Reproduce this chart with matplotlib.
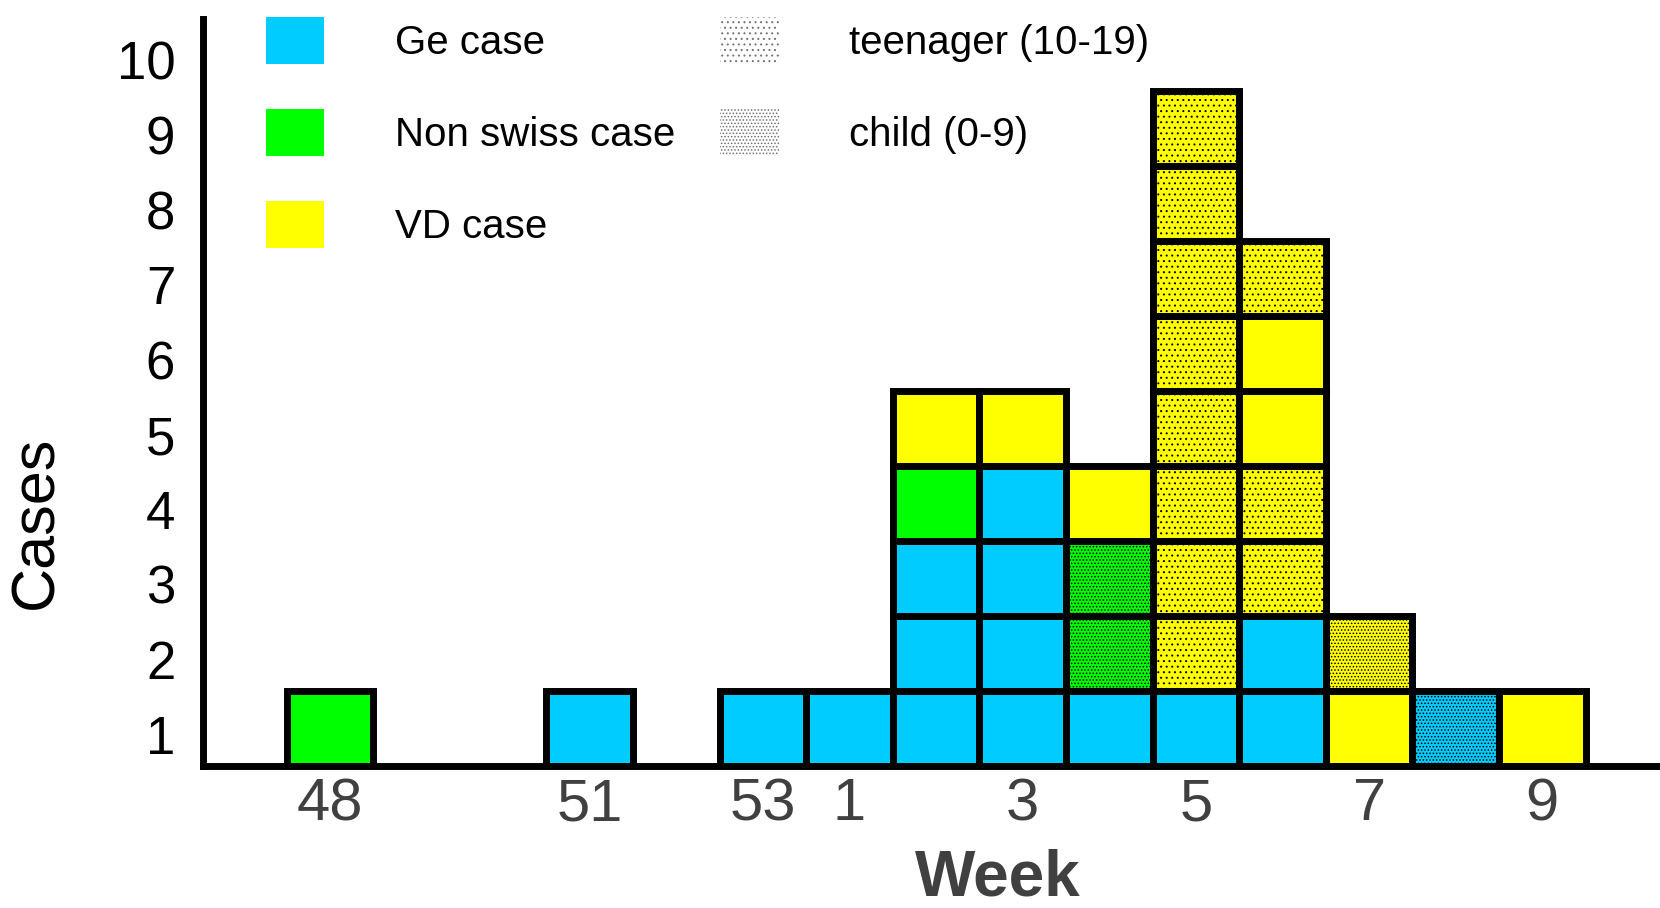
import matplotlib
matplotlib.use("Agg")
import matplotlib.pyplot as plt
from matplotlib.patches import Patch

plt.rcParams['font.family'] = ['Liberation Sans', 'DejaVu Sans']
plt.rcParams['hatch.linewidth'] = 0.7

# ---- data ----
weeks = ['48', '49', '50', '51', '52', '53', '1', '2', '3', '4', '5', '6', '7', '8', '9']
# cells bottom-to-top per week: G = Ge case, N = Non swiss case, V = VD case
cell_origin = ['N', '', '', 'G', '', 'G', 'G', 'GGGNV', 'GGGGV', 'GNNV',
               'GVVVVVVVV', 'GGVVVVV', 'VV', 'G', 'V']
# age group per cell: '-' = other, t = teenager (10-19), c = child (0-9)
cell_age = ['-', '', '', '-', '', '-', '-', '-----', '-----', '-cc-',
            '-tttttttt', '--tt--t', '-c', 'c', '-']
tick_weeks = ['48', '51', '53', '1', '3', '5', '7', '9']
y_ticks = [1, 2, 3, 4, 5, 6, 7, 8, 9, 10]

origin_names = {'G': 'Ge case', 'N': 'Non swiss case', 'V': 'VD case'}
origin_colors = {'G': '#00CCFF', 'N': '#00FF00', 'V': '#FFFF00'}
age_names = {'t': 'teenager (10-19)', 'c': 'child (0-9)'}
age_hatch = {'-': None, 't': '...', 'c': '.....'}

fig = plt.figure(figsize=(16.6, 9.08), dpi=100)
ax = fig.add_axes([203 / 1660, (908 - 766) / 908, 1 - 203 / 1660, (766 - 19) / 908])

for i, (orig, age) in enumerate(zip(cell_origin, cell_age)):
    for level, (o, a) in enumerate(zip(orig, age)):
        ax.bar(i, 1, width=1.0, bottom=level, color=origin_colors[o],
               edgecolor='black', linewidth=5, hatch=age_hatch[a], zorder=2)

ax.set_xlim(-1.467, 15.36)
ax.set_ylim(0, 9.96)

ax.set_xticks([weeks.index(w) for w in tick_weeks])
ax.set_xticklabels(tick_weeks, fontsize=43, color='#404040')
ax.set_yticks([v - 0.58 for v in y_ticks])
ax.set_yticklabels([str(v) for v in y_ticks], fontsize=38, color='black')
ax.tick_params(axis='x', length=0, pad=8)
ax.tick_params(axis='y', length=0, pad=20)

for s in ['top', 'right']:
    ax.spines[s].set_visible(False)
for s in ['left', 'bottom']:
    ax.spines[s].set_linewidth(5)
    ax.spines[s].set_color('black')

ax.set_xlabel('Week', fontsize=46, fontweight='bold', color='#404040')
ax.xaxis.label.set_va('center')
ax.xaxis.set_label_coords((998 - 203) / 1457, (766 - 879) / 747)
ax.set_ylabel('Cases', fontsize=44, color='black')
ax.yaxis.label.set_va('center')
ax.yaxis.set_label_coords((37 - 203) / 1457, (766 - 522) / 747)

handles = [Patch(facecolor=origin_colors[k], edgecolor='none', label=origin_names[k])
           for k in ['G', 'N', 'V']]
handles += [Patch(facecolor='white', edgecolor='#707070', linewidth=0,
                  hatch=age_hatch[k], label=age_names[k]) for k in ['t', 'c']]
fig.legend(handles=handles, ncol=2, loc='upper left',
           bbox_to_anchor=(266 / 1660, 1 - 17 / 908), frameon=False,
           fontsize=29, handlelength=1.45, handleheight=1.4,
           handletextpad=1.75, labelspacing=1.13, columnspacing=1.12,
           borderpad=0, borderaxespad=0)

fig.savefig('out.png', dpi=100)
